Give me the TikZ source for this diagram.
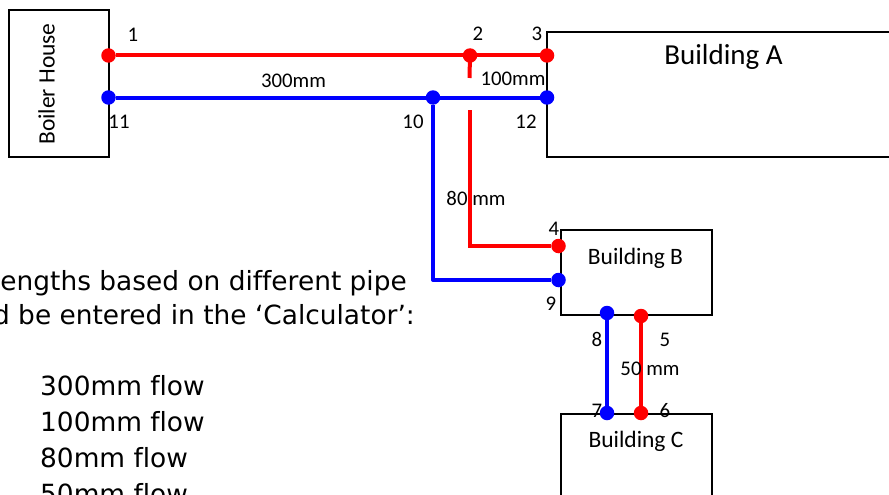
\documentclass[tikz,border=0pt]{standalone}
\usepackage{fontspec}
\setmainfont{Carlito}
\newfontfamily\verd[Ligatures={NoCommon}]{DejaVu Sans}
\tikzset{
  box/.style={draw=black,line width=2.2pt,fill=none},
  reddot/.style={circle,fill=red,inner sep=0pt,minimum size=14.5pt},
  bluedot/.style={circle,fill=blue,inner sep=0pt,minimum size=14.5pt},
  redpipe/.style={draw=red,line width=4pt},
  bluepipe/.style={draw=blue,line width=4pt},
  lab/.style={inner sep=0pt,font=\fontsize{20.8}{24}\selectfont},
  blab/.style={inner sep=0pt,font=\fontsize{23.5}{28}\selectfont},
  body/.style={inner sep=0pt,font=\verd\fontsize{26.4}{30}\selectfont}
}
\begin{document}
\begin{tikzpicture}[x=1pt,y=-1pt]
\useasboundingbox (0,0) rectangle (889,495);
\clip (0,0) rectangle (889,495);
% buildings
\draw[box] (9,10) rectangle (109,157);
\draw[box] (900,32) -- (547,32) -- (547,157) -- (900,157);
\draw[box] (561,230) rectangle (712,315);
\draw[box] (561,520) -- (561,414) -- (712,414) -- (712,520);
% junctions
\node[reddot] (n1) at (108.5,55.5) {};
\node[reddot] (n2) at (470,55.5) {};
\node[reddot] (n3) at (547,55.5) {};
\node[reddot] (n4) at (558.5,246) {};
\node[reddot] (n5) at (641,316) {};
\node[reddot] (n6) at (641,413) {};
\node[bluedot] (n7) at (607,413) {};
\node[bluedot] (n8) at (607,313) {};
\node[bluedot] (n9) at (558.5,280) {};
\node[bluedot] (n10) at (433,97.5) {};
\node[bluedot] (n11) at (108.5,97.5) {};
\node[bluedot] (n12) at (547,97.5) {};
\coordinate (stubend) at (469.5,78);
\coordinate (redresume) at (469.5,110);
% pipes
\draw[redpipe] (n1) -- (n2);
\draw[redpipe] (n2) -- (n3);
\draw[redpipe] (n2.center) -- (stubend);
\draw[redpipe,line join=miter] (redresume) |- (n4);
\draw[redpipe] (n5) -- (n6);
\draw[bluepipe] (n11) -- (n10);
\draw[bluepipe] (n10) -- (n12);
\draw[bluepipe,line join=round] (n10) |- (n9);
\draw[bluepipe] (n8) -- (n7);
% building names
\node[blab,font=\fontsize{29}{34}\selectfont] (ba) at (723.5,57) {Building A};
\node[blab] (bb) at (635.5,258.5) {Building B};
\node[blab] (bc) at (636,441.5) {Building C};
\node[blab,rotate=90] (bh) at (46.5,84) {Boiler House};
% numbers
\node[lab] (l1) at (133,34.5) {1};
\node[lab] (l2) at (478,33.5) {2};
\node[lab] (l3) at (537,33.5) {3};
\node[lab] (l4) at (554,228.5) {4};
\node[lab] (l5) at (665,339.5) {5};
\node[lab] (l6) at (665,411) {6};
\node[lab] (l7) at (597,411) {7};
\node[lab] (l8) at (597,339.5) {8};
\node[lab] (l9) at (551,303.5) {9};
\node[lab] (l10) at (413,121.5) {10};
\node[lab] (l11) at (119,121.5) {11};
\node[lab] (l12) at (526,121.5) {12};
% sizes
\node[lab] (s300) at (293.5,81) {300mm};
\node[lab] (s100) at (513,78.5) {100mm};
\node[lab] (s80) at (476,198.5) {80 mm};
\node[lab] (s50) at (650,368.5) {50 mm};
% body text
\node[body,anchor=base east] (t1) at (407,290) {engths based on different pipe};
\node[body,anchor=base east] (t2) at (415,324.5) {d be entered in the ‘Calculator’:};
\node[body,anchor=base west] (t3) at (40,395.5) {300mm flow};
\node[body,anchor=base west] (t4) at (40,431.5) {100mm flow};
\node[body,anchor=base west] (t5) at (40,467.5) {80mm flow};
\node[body,anchor=base west] (t6) at (40,503.5) {50mm flow};
\end{tikzpicture}
\end{document}
